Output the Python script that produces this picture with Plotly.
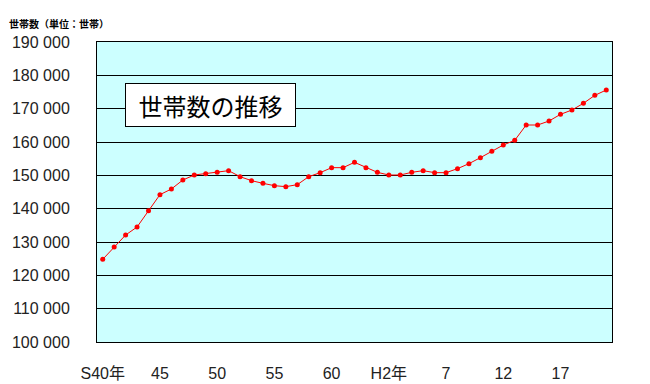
import plotly.graph_objects as go

# Fiscal years S40 (1965) .. H21 (2009)
years = [1965, 1966, 1967, 1968, 1969, 1970, 1971, 1972, 1973, 1974,
         1975, 1976, 1977, 1978, 1979, 1980, 1981, 1982, 1983, 1984,
         1985, 1986, 1987, 1988, 1989, 1990, 1991, 1992, 1993, 1994,
         1995, 1996, 1997, 1998, 1999, 2000, 2001, 2002, 2003, 2004,
         2005, 2006, 2007, 2008, 2009]

households = [124800, 128500, 132100, 134500, 139400, 144200, 145900, 148600, 150100, 150500,
              150900, 151400, 149600, 148400, 147600, 146900, 146600, 147200, 149600, 150800,
              152300, 152300, 153900, 152300, 150900, 150100, 150100, 150900, 151400, 150800,
              150800, 152000, 153500, 155300, 157200, 159100, 160500, 165100, 165100, 166300,
              168300, 169600, 171600, 174000, 175600]

x_tick_years = [1965, 1970, 1975, 1980, 1985, 1990, 1995, 2000, 2005]
x_tick_labels = ["S40年", "45", "50", "55", "60", "H2年", "7", "12", "17"]

y_tick_vals = [100000, 110000, 120000, 130000, 140000, 150000, 160000, 170000, 180000, 190000]
y_tick_labels = ["100 000", "110 000", "120 000", "130 000", "140 000",
                 "150 000", "160 000", "170 000", "180 000", "190 000"]

chart_title = "世帯数の推移"
y_axis_title = "世帯数（単位：世帯）"

tick_font = "Liberation Sans, Arial, Noto Sans CJK JP, sans-serif"

fig = go.Figure()
fig.add_trace(go.Scatter(
    x=years, y=households, mode="lines+markers",
    line=dict(color="#ff0000", width=1),
    marker=dict(color="#ff0000", size=5),
    showlegend=False, hoverinfo="skip",
))

fig.update_layout(
    width=650, height=384,
    margin=dict(l=97, r=38, t=42, b=42, autoexpand=False),
    paper_bgcolor="white",
    plot_bgcolor="#ccffff",
    font=dict(family=tick_font, color="#222222"),
    xaxis=dict(
        range=[years[0] - 0.5, years[-1] + 0.5],
        tickvals=x_tick_years, ticktext=x_tick_labels,
        showgrid=False, zeroline=False, automargin=False,
        showline=True, linecolor="#000000", linewidth=1, mirror=True,
        ticks="", ticklabelstandoff=17,
        tickfont=dict(size=16, family=tick_font, color="#222222"),
        fixedrange=True,
    ),
    yaxis=dict(
        range=[100000, 190000],
        tickvals=y_tick_vals, ticktext=y_tick_labels,
        showgrid=True, gridcolor="#000000", gridwidth=1,
        zeroline=False, automargin=False,
        showline=True, linecolor="#000000", linewidth=1, mirror=True,
        ticks="", ticklabelstandoff=23,
        tickfont=dict(size=16, family=tick_font, color="#222222"),
        fixedrange=True,
    ),
    annotations=[
        dict(
            text=chart_title, xref="paper", yref="paper",
            x=0.2204, y=0.79, xanchor="center", yanchor="middle",
            showarrow=False,
            font=dict(family="Noto Sans CJK JP", size=24, color="#000000"),
            bgcolor="white", bordercolor="#000000", borderwidth=1,
            borderpad=0, width=169, height=42, align="center", valign="middle",
        ),
        dict(
            text="<b>" + y_axis_title + "</b>", xref="paper", yref="paper",
            x=-0.175, y=1.06, xanchor="left", yanchor="middle",
            showarrow=False,
            font=dict(family="Noto Sans CJK JP", size=10, color="#000000"),
        ),
    ],
)

fig.write_html("out.html", config={"displayModeBar": False},
               post_script="document.body.style.margin='0';")
